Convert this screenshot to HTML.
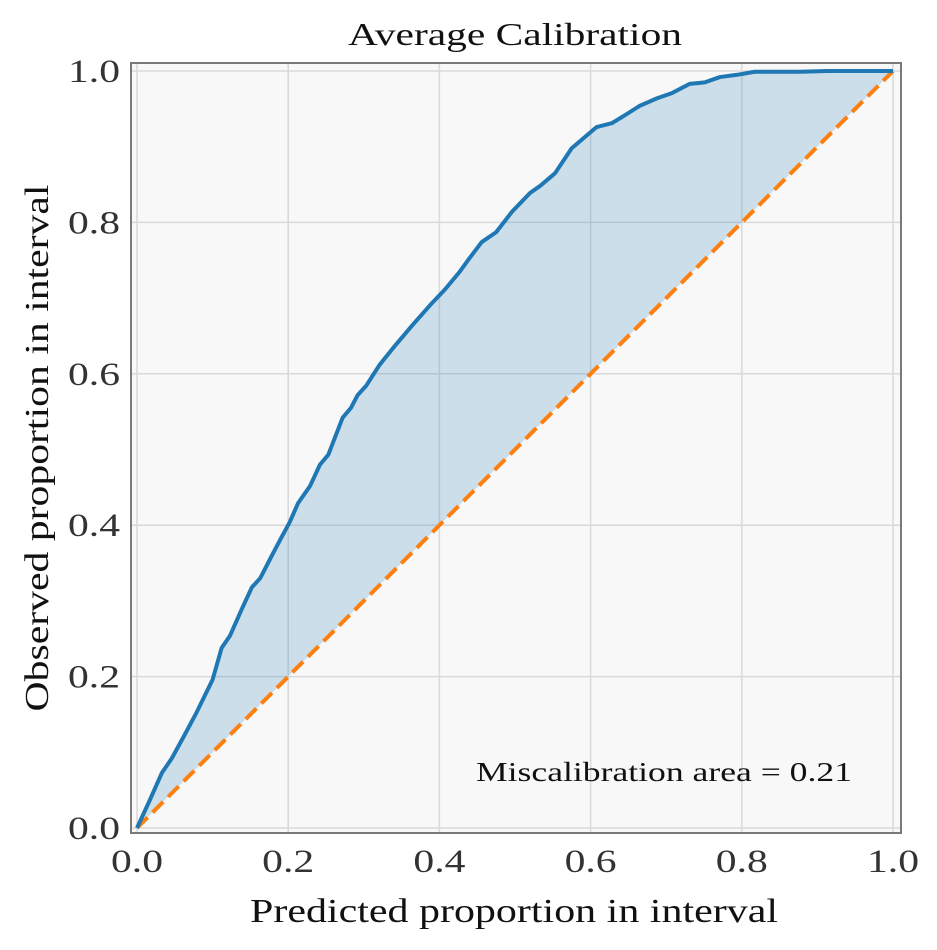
<!DOCTYPE html>
<html>
<head>
<meta charset="utf-8">
<style>
  html,body{margin:0;padding:0;background:#fff;}
  svg{display:block;font-family:"Liberation Serif","DejaVu Serif",serif;}
</style>
</head>
<body>
<svg id="chart" width="937" height="950" viewBox="0 0 937 950" xmlns="http://www.w3.org/2000/svg">
  <rect x="131" y="63" width="770" height="770" fill="#f8f8f8"/>
  <g id="grid"></g>
  <g id="marks"></g>
  <rect x="131" y="63" width="770" height="770" fill="none" stroke="#7a7a7a" stroke-width="2"/>
  <g id="ticks"></g>
  <text x="515" y="45" text-anchor="middle" font-size="32" textLength="334" lengthAdjust="spacingAndGlyphs" fill="#111">Average Calibration</text>
  <text x="514" y="922" text-anchor="middle" font-size="34" textLength="528" lengthAdjust="spacingAndGlyphs" fill="#111">Predicted proportion in interval</text>
  <text x="48" y="448" text-anchor="middle" font-size="34" textLength="527" lengthAdjust="spacingAndGlyphs" fill="#111" transform="rotate(-90 48 448)">Observed proportion in interval</text>
  <text x="852" y="781" text-anchor="end" font-size="27" textLength="376" lengthAdjust="spacingAndGlyphs" fill="#111">Miscalibration area = 0.21</text>
</svg>
<script>
const predicted = [0,0.017,0.033,0.046,0.063,0.079,0.1,0.112,0.123,0.139,0.152,0.163,0.179,0.189,0.202,0.213,0.229,0.242,0.253,0.272,0.283,0.292,0.303,0.321,0.342,0.365,0.388,0.407,0.427,0.44,0.456,0.475,0.496,0.52,0.533,0.553,0.575,0.595,0.608,0.628,0.646,0.665,0.688,0.708,0.731,0.751,0.771,0.794,0.817,0.877,0.913,1];
const observed = [0,0.037,0.073,0.092,0.123,0.153,0.196,0.238,0.254,0.29,0.318,0.33,0.361,0.38,0.404,0.429,0.452,0.48,0.493,0.542,0.555,0.572,0.584,0.612,0.638,0.665,0.691,0.711,0.735,0.753,0.774,0.787,0.814,0.839,0.848,0.865,0.898,0.915,0.926,0.931,0.942,0.954,0.964,0.971,0.983,0.985,0.992,0.995,0.999,0.999,1.0,1.0];
const tickValues = [0,0.2,0.4,0.6,0.8,1.0];
const tickLabels = ["0.0","0.2","0.4","0.6","0.8","1.0"];

const NS = "http://www.w3.org/2000/svg";
const X0 = 137, X1 = 893, Y0 = 828, Y1 = 71;
function sx(v){ return X0 + v*(X1-X0); }
function sy(v){ return Y0 - v*(Y0-Y1); }
function mk(tag, attrs, parent){
  const e = document.createElementNS(NS, tag);
  for (const k in attrs) e.setAttribute(k, attrs[k]);
  parent.appendChild(e);
  return e;
}
const grid = document.getElementById('grid');
const ticks = document.getElementById('ticks');
const marks = document.getElementById('marks');

tickValues.forEach((v,i)=>{
  const gx = mk('line',{x1:sx(v),x2:sx(v),y1:63,y2:833,stroke:'#d9d9d9','stroke-width':1.5},grid);
  
  
  const gy = mk('line',{x1:131,x2:901,y1:sy(v),y2:sy(v),stroke:'#d9d9d9','stroke-width':1.5},grid);
  
  
  const tx = mk('text',{x:sx(v),y:872,'text-anchor':'middle','font-size':33,textLength:52,lengthAdjust:'spacingAndGlyphs',fill:'#333'},ticks);
  tx.textContent = tickLabels[i];
  
  
  const ty = mk('text',{x:120,y:sy(v)+11,'text-anchor':'end','font-size':33,textLength:52,lengthAdjust:'spacingAndGlyphs',fill:'#333'},ticks);
  ty.textContent = tickLabels[i];
  
  
});

let d = predicted.map((p,i)=>(i?'L':'M')+sx(p)+','+sy(observed[i])).join(' ');
const area = mk('path',{d: d + ' L'+sx(1)+','+sy(1)+' L'+sx(0)+','+sy(0)+' Z', fill:'#1f77b4','fill-opacity':0.2, stroke:'none'},marks);



const ideal = mk('line',{x1:sx(0),y1:sy(0),x2:sx(1),y2:sy(1),stroke:'#ff7f0e','stroke-width':4,'stroke-dasharray':'15,7'},marks);



const curve = mk('path',{d:d,fill:'none',stroke:'#1f77b4','stroke-width':4,'stroke-linejoin':'round'},marks);


</script>
</body>
</html>
